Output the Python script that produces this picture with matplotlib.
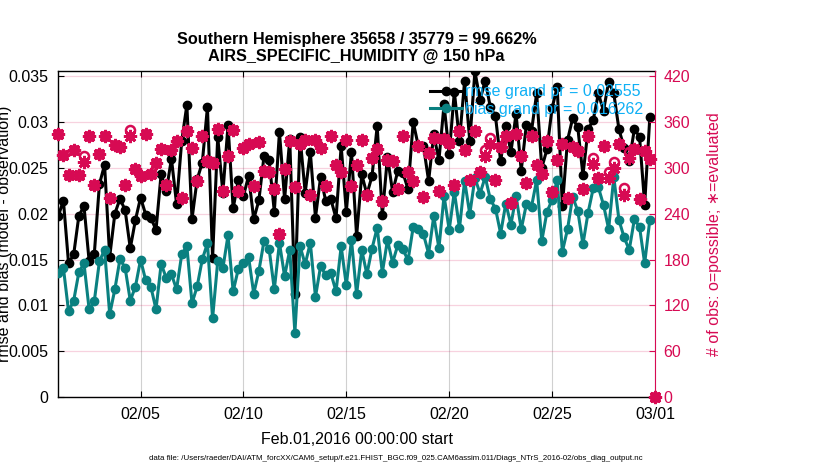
import numpy as np
import pandas as pd
import matplotlib
matplotlib.use('Agg')
import matplotlib.pyplot as plt
import matplotlib.dates as mdates

plt.rcParams['font.family'] = ['Liberation Sans', 'DejaVu Sans']

# ---------------- data ----------------
start = '2016-02-01 00:00'
n_bins = 117

rmse = [0.01975, 0.02142, 0.01459, 0.01557, 0.01975, 0.02084, 0.01485, 0.01557, 0.0232, 0.02534,
        0.01532, 0.0200, 0.02164, 0.02037, 0.01623, 0.01931, 0.02175, 0.0199, 0.01957, 0.01822,
        0.02436, 0.02244, 0.026, 0.02106, 0.02792, 0.03184, 0.01942, 0.02374, 0.02556, 0.03162,
        0.01514, 0.02836, 0.02229, 0.02963, 0.02059, 0.02363, 0.02193, 0.02411, 0.01939, 0.02146,
        0.02629, 0.02581, 0.02022, 0.0289, 0.02157, 0.0281, 0.01122, 0.02836, 0.02229, 0.02672,
        0.01957, 0.024, 0.02138, 0.02157, 0.0195, 0.02737, 0.02022, 0.02672, 0.01757, 0.02429,
        0.02211, 0.02411, 0.02955, 0.01982, 0.02621, 0.02236, 0.02465, 0.02447, 0.02265, 0.02999,
        0.02737, 0.02737, 0.02356, 0.02865, 0.02581, 0.0319, 0.02647, 0.0333, 0.02795, 0.0345,
        0.02792, 0.0355, 0.0324, 0.0345, 0.0316, 0.0306, 0.0257, 0.0296, 0.0267, 0.0309,
        0.0247, 0.0297, 0.0290, 0.0331, 0.0250, 0.0270, 0.0315, 0.0338, 0.0208, 0.0280,
        0.0304, 0.0294, 0.0242, 0.0292, 0.0302, 0.0331, 0.0312, 0.0344, 0.0331, 0.0292,
        0.0272, 0.0257, 0.0292, 0.0284, 0.0210, 0.0305, np.nan]

bias = [0.0135, 0.01409, 0.00937, 0.01053, 0.01361, 0.01459, 0.00958, 0.01045, 0.01481, 0.01608,
        0.00904, 0.01176, 0.01507, 0.01409, 0.01053, 0.01205, 0.01499, 0.01274, 0.01205, 0.00958,
        0.01452, 0.013, 0.0134, 0.01176, 0.01557, 0.01645, 0.01024, 0.01208, 0.01503, 0.01677,
        0.0086, 0.01481, 0.01405, 0.01764, 0.01154, 0.01398, 0.01459, 0.01528, 0.01129, 0.01376,
        0.01703, 0.01612, 0.01176, 0.01684, 0.01318, 0.01605, 0.00704, 0.01648, 0.01448, 0.01684,
        0.01093, 0.0143, 0.01329, 0.0135, 0.01154, 0.01645, 0.0122, 0.01714, 0.01122, 0.01605,
        0.0134, 0.0162, 0.01848, 0.01357, 0.01714, 0.01466, 0.01659, 0.01612, 0.01492, 0.01855,
        0.0183, 0.01775, 0.01565, 0.01975, 0.01623, 0.02195, 0.01823, 0.0224, 0.01841, 0.0236,
        0.01994, 0.0239, 0.0222, 0.0240, 0.02155, 0.02056, 0.01784, 0.02111, 0.01882, 0.02191,
        0.0183, 0.02102, 0.02076, 0.02366, 0.01703, 0.02019, 0.0215, 0.02366, 0.01587, 0.0183,
        0.02185, 0.0203, 0.01667, 0.02011, 0.02277, 0.02288, 0.02095, 0.01833, 0.024, 0.01931,
        0.01743, 0.01605, 0.01939, 0.01858, 0.01459, 0.01931, np.nan]

n_used = [344, 317, 291, 323, 290, 307, 341, 278, 318, 342,
          261, 330, 327, 277, 342, 298, 289, 344, 292, 306,
          325, 278, 323, 335, 261, 348, 326, 283, 342, 309,
          306, 351, 269, 316, 350, 270, 326, 331, 276, 334,
          296, 294, 272, 214, 299, 335, 275, 331, 336, 264,
          336, 326, 276, 342, 304, 294, 336, 276, 303, 336,
          265, 313, 324, 257, 310, 309, 272, 341, 295, 283,
          329, 262, 319, 339, 270, 338, 333, 278, 348, 323,
          284, 348, 294, 315, 331, 284, 327, 342, 254, 344,
          315, 280, 342, 303, 292, 335, 268, 310, 331, 261,
          327, 322, 272, 341, 305, 287, 329, 286, 300, 331,
          265, 313, 324, 259, 322, 312, 0]

n_poss = [344, 317, 291, 323, 290, 315, 341, 278, 318, 342,
          261, 330, 327, 277, 350, 298, 289, 344, 292, 306,
          325, 278, 323, 335, 261, 348, 326, 283, 342, 309,
          306, 351, 269, 316, 350, 270, 326, 331, 276, 334,
          296, 294, 272, 214, 299, 335, 275, 331, 336, 264,
          336, 326, 276, 342, 304, 294, 336, 276, 303, 336,
          265, 313, 324, 257, 310, 309, 272, 341, 295, 283,
          329, 262, 319, 339, 270, 338, 333, 278, 348, 323,
          284, 348, 294, 323, 339, 284, 327, 342, 254, 344,
          315, 280, 342, 303, 292, 335, 268, 310, 331, 261,
          327, 322, 272, 341, 313, 287, 329, 294, 308, 331,
          273, 321, 324, 259, 322, 312, 0]

x_ticks = ['2016-02-05', '2016-02-10', '2016-02-15', '2016-02-20', '2016-02-25', '2016-03-01']
left_ticks = [0, 0.005, 0.01, 0.015, 0.02, 0.025, 0.03, 0.035]
right_ticks = [0, 60, 120, 180, 240, 300, 360, 420]

title = 'Southern Hemisphere 35658 / 35779 = 99.662%\nAIRS_SPECIFIC_HUMIDITY @ 150 hPa'
legend_labels = ['rmse grand pr = 0.02555', 'bias grand pr = 0.016262']
datafile = ('data file: /Users/raeder/DAI/ATM_forcXX/CAM6_setup/f.e21.FHIST_BGC.f09_025.'
            'CAM6assim.011/Diags_NTrS_2016-02/obs_diag_output.nc')

# ---------------- style ----------------
PINK = '#D70A53'
TEAL = '#0A8080'
LEGEND_BLUE = '#0FB0F5'

times = pd.date_range(start, periods=n_bins, freq='6h')

fig = plt.figure(figsize=(8.3, 4.7), dpi=100)
ax = fig.add_axes([0.0702, 0.1547, 0.7189, 0.6949])
ax2 = ax.twinx()

l1, = ax.plot(times, rmse, '-o', color='black', lw=2.2, ms=6, zorder=3)
l2, = ax.plot(times, bias, '-o', color=TEAL, lw=2.2, ms=6, zorder=3)

# possible: hollow circles; evaluated: asterisk over a filled core
ax2.plot(times, n_poss, 'o', mfc='none', mec=PINK, mew=1.8, ms=6.5, clip_on=False, zorder=4)
ax2.plot(times, n_used, 'o', color=PINK, mec=PINK, ms=5.5, clip_on=False, zorder=4)
ax2.plot(times, n_used, linestyle='none', marker=(8, 2, 0), color=PINK, mec=PINK,
         mew=2.0, ms=9.5, clip_on=False, zorder=4)

ax.set_xlim(pd.Timestamp('2016-02-01'), pd.Timestamp('2016-03-01'))
ax.set_ylim(0, 0.03558)
ax2.set_ylim(0, 426.9)

ax.set_xticks([pd.Timestamp(t) for t in x_ticks])
ax.xaxis.set_major_formatter(mdates.DateFormatter('%m/%d'))
ax.set_yticks(left_ticks)
ax.set_yticklabels(['%g' % v for v in left_ticks])
ax2.set_yticks(right_ticks)

ax.tick_params(axis='both', direction='in', labelsize=11.5, length=4, top=True)
ax.tick_params(axis='y', pad=7)
ax.tick_params(axis='x', pad=7)
ax2.tick_params(axis='y', direction='in', labelsize=11.5, length=4, colors=PINK, pad=6)

ax.grid(axis='x', color='#d0d0d0', lw=0.8)
ax.grid(axis='y', color=PINK, alpha=0.18, lw=0.9)
ax.set_axisbelow(True)

ax.spines['right'].set_visible(False)
ax2.spines['right'].set_color(PINK)
ax2.spines['left'].set_visible(False)
ax2.spines['top'].set_visible(False)
ax2.spines['bottom'].set_visible(False)
for s in ['left', 'top', 'bottom']:
    ax.spines[s].set_linewidth(1.0)

ax.set_title(title, fontsize=11.7, fontweight='bold', pad=7, linespacing=1.2)
ax.set_xlabel('Feb.01,2016 00:00:00 start', fontsize=11.5)
ax.xaxis.set_label_coords(0.5, -0.105)
ax.set_ylabel('rmse and bias (model - observation)', fontsize=11.5)
ax.yaxis.set_label_coords(-0.078, 0.5)
ax2.set_ylabel('# of obs: o=possible; \u2217=evaluated', fontsize=11.5, color=PINK,
               rotation=90, family=['Liberation Sans', 'DejaVu Sans'])
ax2.yaxis.set_label_coords(1.088, 0.5)

leg = ax2.legend([l1, l2], legend_labels, loc='upper right', bbox_to_anchor=(0.997, 0.988),
                 frameon=False, fontsize=11.5, labelcolor=LEGEND_BLUE, handlelength=2.0,
                 handletextpad=0.2, labelspacing=0.15, borderaxespad=0.2, numpoints=1)

fig.text(396 / 830, 1 - 458 / 470, datafile, fontsize=5.65, ha='center', va='center')

fig.savefig('out.png', dpi=100)
